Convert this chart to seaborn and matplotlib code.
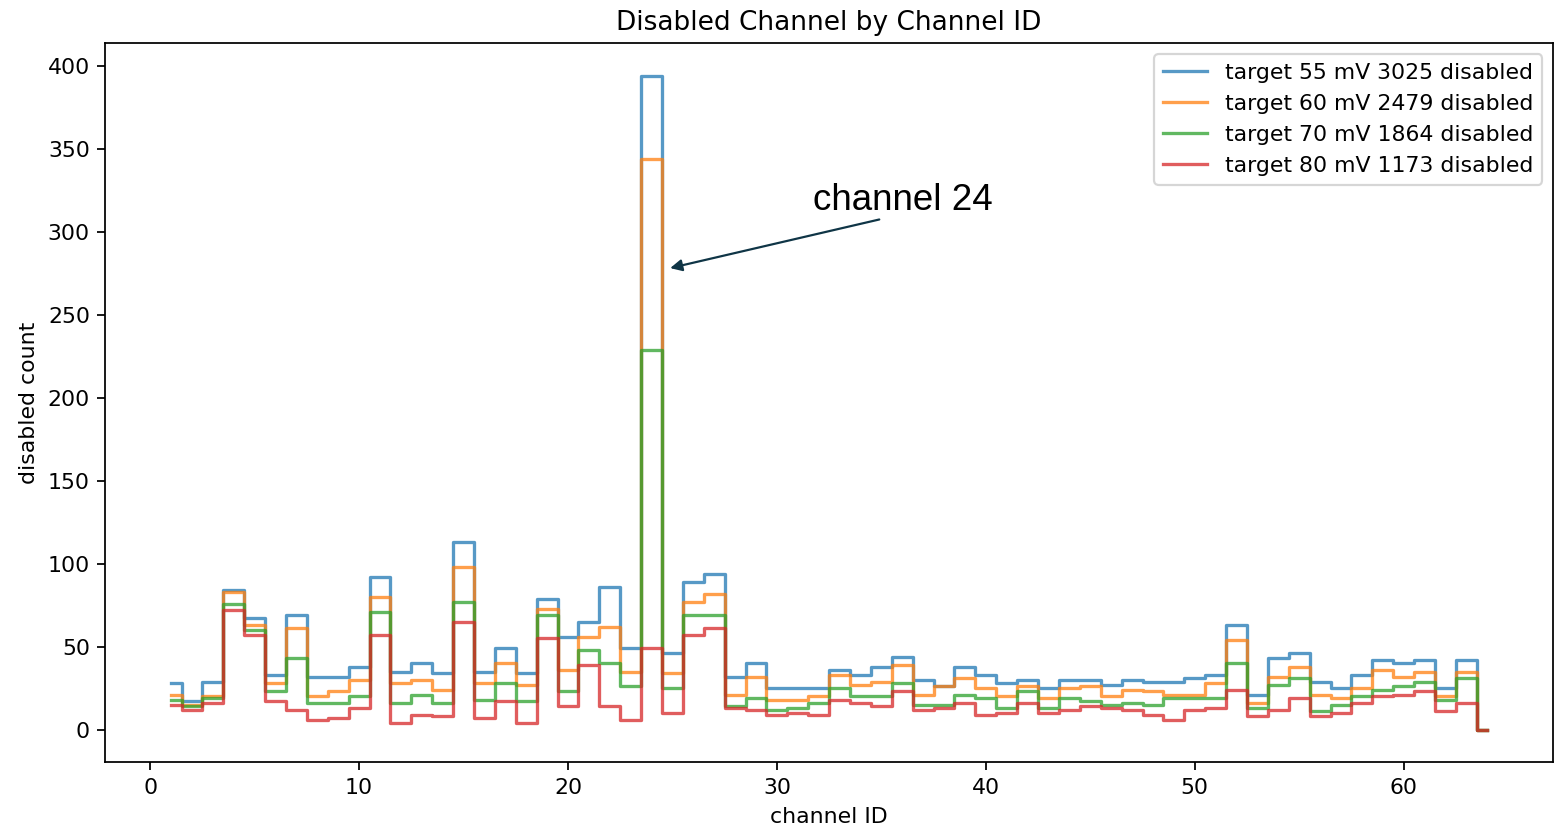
import numpy as np
import pandas as pd
import matplotlib
matplotlib.use("Agg")
import matplotlib.pyplot as plt
import seaborn as sns

# Channel IDs 1..64
channels = list(range(1, 65))

# Disabled counts per channel for each target threshold
target_55mv = [28, 17, 29, 84, 67, 33, 69, 32, 32, 38, 92, 35, 40, 34, 113,
               35, 49, 34, 79, 56, 65, 86, 49, 394, 46, 89, 94, 32, 40,
               25, 25, 25, 36, 33, 38, 44, 30, 26, 38, 33, 28, 30, 25, 30, 30,
               27, 30, 29, 29, 31, 33, 63, 21, 43, 46, 29, 25, 33, 42, 40, 42, 25, 42, 0]
target_60mv = [21, 15, 20, 83, 63, 28, 61, 20, 23, 30, 80, 28, 30, 24, 98,
               28, 40, 27, 73, 36, 56, 62, 35, 344, 34, 77, 82, 21, 32,
               18, 18, 20, 33, 27, 29, 39, 21, 26, 31, 25, 20, 26, 19, 25, 26,
               20, 24, 23, 21, 21, 28, 54, 16, 32, 38, 21, 19, 25, 36, 32, 35, 20, 35, 0]
target_70mv = [18, 14, 19, 76, 60, 23, 43, 16, 16, 20, 71, 16, 21, 16, 77,
               18, 28, 17, 69, 23, 48, 40, 26, 229, 25, 69, 69, 14, 19,
               12, 13, 16, 25, 20, 20, 28, 15, 15, 21, 19, 13, 23, 13, 19, 17,
               15, 16, 15, 19, 19, 19, 40, 13, 27, 31, 11, 15, 20, 24, 26, 29, 18, 31, 0]
target_80mv = [15, 12, 16, 72, 57, 17, 12, 6, 7, 13, 57, 4, 9, 8, 65,
               7, 17, 4, 55, 14, 39, 14, 6, 49, 10, 57, 61, 13, 12,
               9, 10, 9, 18, 16, 14, 23, 12, 13, 16, 9, 10, 16, 10, 12, 14,
               13, 12, 9, 6, 12, 13, 24, 8, 12, 19, 8, 10, 16, 20, 21, 23, 11, 16, 0]

targets_mv = [55, 60, 70, 80]
totals = [3025, 2479, 1864, 1173]
series = [target_55mv, target_60mv, target_70mv, target_80mv]
colors = ["#1f77b4", "#ff7f0e", "#2ca02c", "#d62728"]

DPI = 158.4
W, H = 1554, 828
fig = plt.figure(figsize=(W / DPI, H / DPI), dpi=DPI)
ax = fig.add_axes([105.3 / W, 1 - 762.3 / H, (1553 - 105.3) / W, (762.3 - 43.3) / H])

for mv, total, values, color in zip(targets_mv, totals, series, colors):
    df = pd.DataFrame({"channel ID": channels, "disabled count": values})
    sns.lineplot(data=df, x="channel ID", y="disabled count", ax=ax,
                 drawstyle="steps-mid", color=color, alpha=0.75, linewidth=1.5,
                 label=f"target {mv} mV {total} disabled")

ax.set_title("Disabled Channel by Channel ID")
ax.set_xlabel("channel ID")
ax.set_ylabel("disabled count")
ax.legend(loc="upper right")

# Call out the hot channel
ax.annotate("", xy=(24.89, 278.2), xytext=(34.9, 307.5),
            arrowprops=dict(arrowstyle="-|>", color="#0f3546", lw=1.0,
                            mutation_scale=11, shrinkA=0, shrinkB=0))
ax.text(31.74, 313.0, "channel 24", fontsize=16.7, family="Liberation Sans",
        ha="left", va="baseline", color="black")

fig.savefig("out.png", dpi=DPI)
